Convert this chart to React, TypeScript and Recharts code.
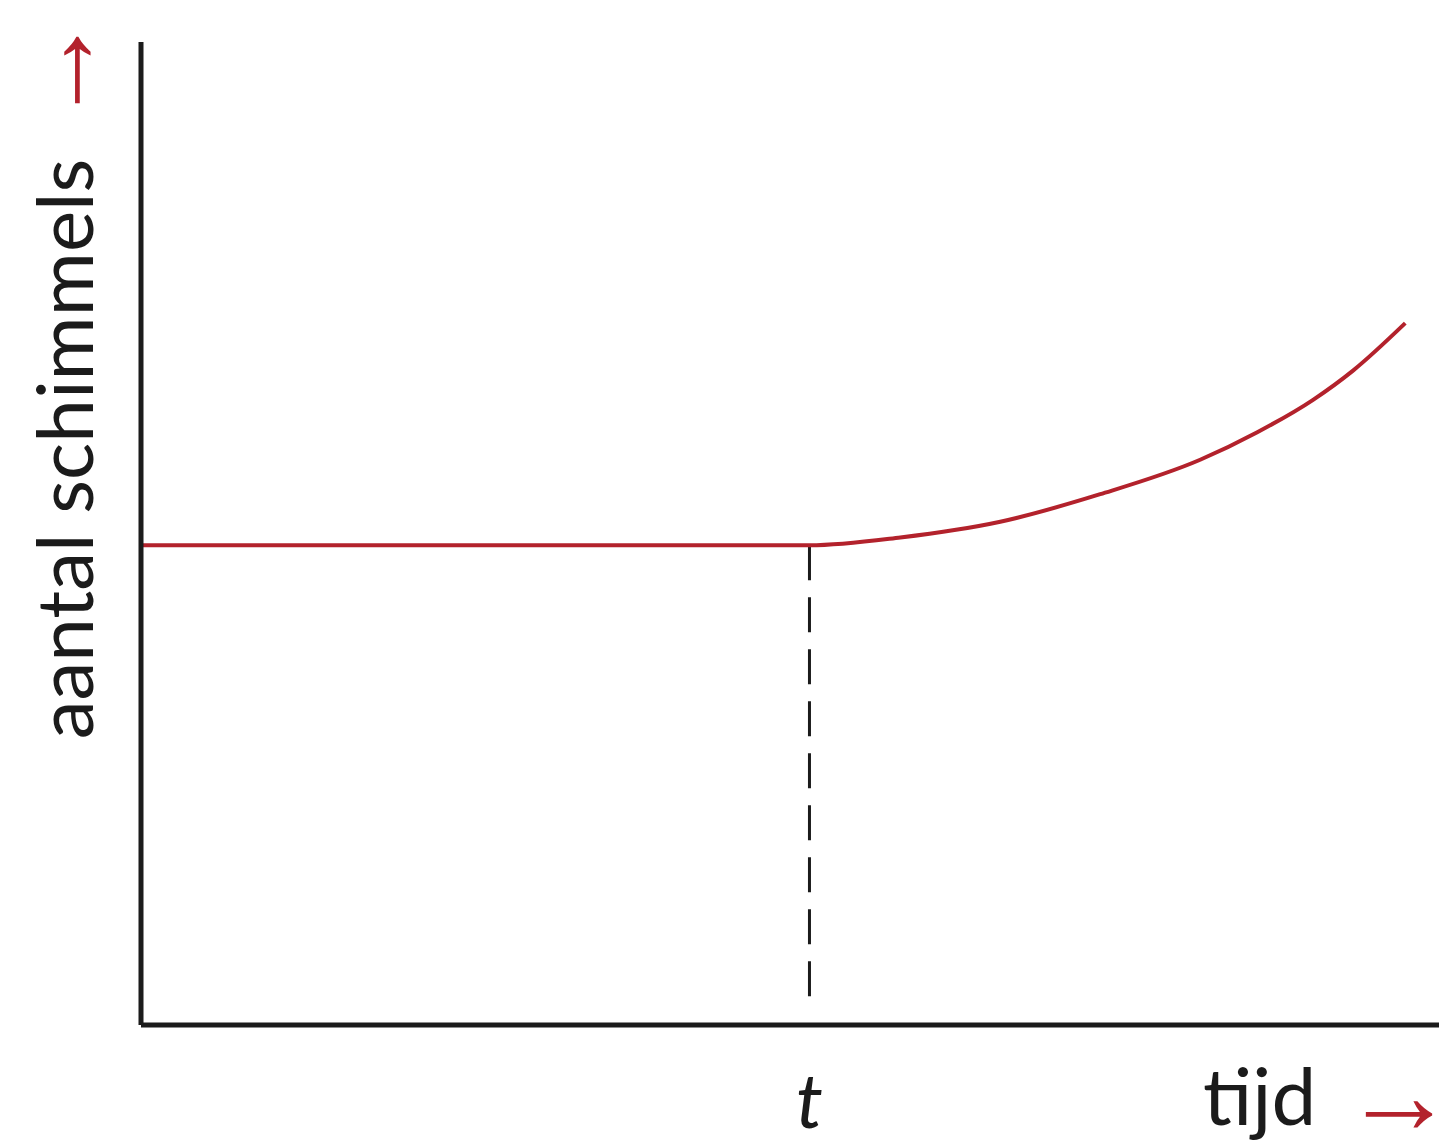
import { LineChart, Line, XAxis, YAxis, ReferenceLine, Label } from 'recharts'

// horizontal position (0–100) and number of molds (0–100)
const timeValues = [0, 51.5, 58.5, 66.2, 73.9, 81.6, 86.0, 90.3, 93.4, 97.4]
const moldValues = [48.8, 48.8, 49.6, 51.2, 54.0, 57.5, 60.3, 63.6, 66.6, 71.4]
const tMoment = [51.5]
const xAxisLabel = 'tijd'
const yAxisLabel = 'aantal schimmels'
const tickLabel = 't'

const data = timeValues.map((x, i) => ({ x, y: moldValues[i] }))

const RED = '#b3222c'
const INK = '#1b1b1b'
const FONT = 'Lato, "Open Sans", sans-serif'
const ARROW_FONT = '"Liberation Sans", "DejaVu Sans", sans-serif'

const renderTick = (props: any) => {
  const { x, y } = props
  return (
    <text x={x} y={y + 95} textAnchor="middle" fontFamily={FONT} fontStyle="italic" fontSize={76} fill={INK}>
      {tickLabel}
    </text>
  )
}

const renderXLabel = (props: any) => {
  const vb = props.viewBox
  return (
    <g>
      <text x={vb.x + 1062} y={vb.y + 100} fontFamily={FONT} fontSize={80} fill={INK}>
        {xAxisLabel}
      </text>
      <text x={vb.x + 1258} y={vb.y + 108} textAnchor="middle" fontFamily={ARROW_FONT} fontSize={112} fill={RED}>
        →
      </text>
    </g>
  )
}

const renderYLabel = (props: any) => {
  const vb = props.viewBox
  const cx = 93
  const ay = vb.y + 28
  return (
    <g>
      <text
        x={cx}
        y={449}
        transform={`rotate(-90 ${cx} 449)`}
        textAnchor="middle"
        fontFamily={FONT}
        fontSize={78}
        fill={INK}
      >
        {yAxisLabel}
      </text>
      <text
        x={96}
        y={ay}
        transform={`rotate(-90 96 ${ay})`}
        textAnchor="middle"
        fontFamily={ARROW_FONT}
        fontSize={112}
        fill={RED}
      >
        →
      </text>
    </g>
  )
}

export default function App() {
  return (
    <div style={{ position: 'absolute', left: 0, top: 0, background: '#fff' }}>
      <LineChart width={1439} height={1142} data={data} margin={{ top: 42, right: 0, bottom: 0, left: 0 }}>
        <XAxis
          type="number"
          dataKey="x"
          domain={[0, 100]}
          ticks={tMoment}
          interval={0}
          tick={renderTick}
          tickLine={false}
          axisLine={{ stroke: INK, strokeWidth: 5 }}
          height={117}
        >
          <Label content={renderXLabel} />
        </XAxis>
        <YAxis
          type="number"
          domain={[0, 100]}
          tick={false}
          tickLine={false}
          axisLine={{ stroke: INK, strokeWidth: 5 }}
          width={141}
        >
          <Label content={renderYLabel} />
        </YAxis>
        <ReferenceLine
          segment={[{ x: tMoment[0], y: moldValues[1] }, { x: tMoment[0], y: 1.5 }]}
          stroke={INK}
          strokeWidth={3}
          strokeDasharray="35 17"
        />
        <Line
          type="monotone"
          dataKey="y"
          stroke={RED}
          strokeWidth={4}
          dot={false}
          activeDot={false}
          isAnimationActive={false}
        />
      </LineChart>
    </div>
  )
}
